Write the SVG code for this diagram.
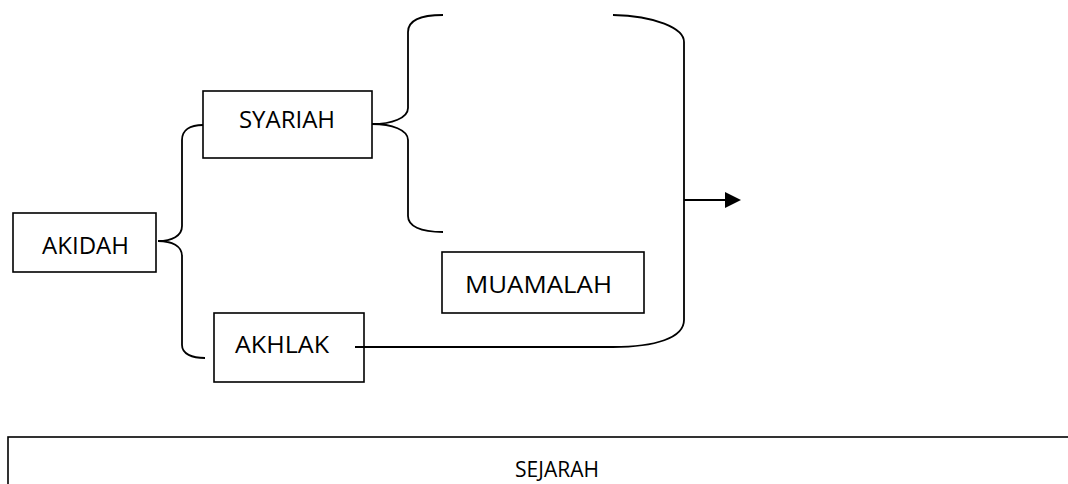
<svg xmlns="http://www.w3.org/2000/svg" width="1068" height="484" viewBox="0 0 1068 484">
  <style>
    .box { fill: #ffffff; stroke: #000000; stroke-width: 1.6; }
    .lbl { font-family: "Open Sans", "Liberation Sans", sans-serif; font-size: 24px; fill: #000000; text-anchor: middle; }
    .link { fill: none; stroke: #000000; stroke-width: 1.8; }
  </style>
  <defs>
    <marker id="head" markerWidth="16" markerHeight="16" refX="0" refY="8" orient="auto" markerUnits="userSpaceOnUse">
      <polygon points="0,0 16,8 0,16" fill="#000000"/>
    </marker>
  </defs>
  <rect width="1068" height="484" fill="#ffffff"/>

  <g id="akidah">
    <rect class="box" x="13" y="213" width="143" height="59"/>
    <text class="lbl" x="85.5" y="254">AKIDAH</text>
  </g>

  <g id="syariah">
    <rect class="box" x="203" y="91" width="169" height="67"/>
    <text class="lbl" x="287" y="128">SYARIAH</text>
  </g>

  <g id="muamalah">
    <rect class="box" x="442" y="252" width="202" height="61"/>
    <text class="lbl" x="538.5" y="293" textLength="147" lengthAdjust="spacingAndGlyphs">MUAMALAH</text>
  </g>

  <g id="akhlak">
    <rect class="box" x="214" y="313" width="150" height="69"/>
    <text class="lbl" x="282" y="353" textLength="94" lengthAdjust="spacingAndGlyphs">AKHLAK</text>
  </g>

  <g id="sejarah">
    <rect class="box" x="8" y="437" width="1100" height="100"/>
    <text class="lbl" x="557" y="477" style="font-size:21px">SEJARAH</text>
  </g>

  <g id="connectors">
    <!-- brace from AKIDAH to SYARIAH and AKHLAK -->
    <path class="link" d="M203,125 C190,125 182,130 182,140 L182,226 C182,236 172,241 158,241 C172,241 182,246 182,256 L182,345 C182,354 192,358 205,358"/>
    <!-- brace opening from SYARIAH -->
    <path class="link" d="M443,15 C420,15 408,20 408,32 L408,108 C408,118 392,124 372,124 C392,124 408,130 408,140 L408,216 C408,226 420,232 443,232"/>
    <!-- closing bracket joined by the AKHLAK line -->
    <path class="link" d="M613,15 C655,16 684,28 684,42 L684,320 C684,338 655,347 613,347 L355,347"/>
    <!-- arrow out of the bracket -->
    <line class="link" x1="684" y1="200" x2="725" y2="200" marker-end="url(#head)"/>
  </g>
</svg>
